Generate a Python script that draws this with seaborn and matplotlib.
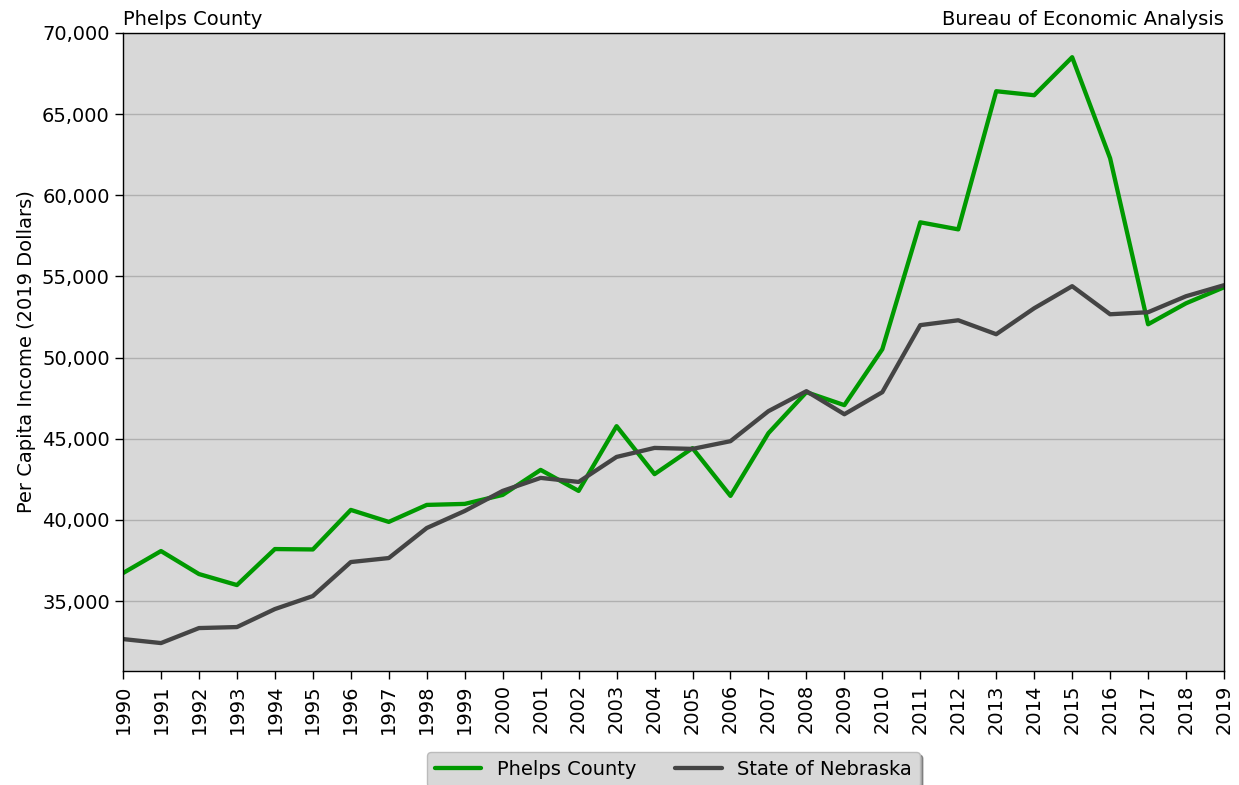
import numpy as np
import pandas as pd
import matplotlib
matplotlib.use("Agg")
import matplotlib.pyplot as plt
import seaborn as sns
from matplotlib.ticker import FuncFormatter

years = list(range(1990, 2020))
phelps = [36725, 38081, 36664, 35986, 38204, 38180, 40616, 39877, 40924, 40986,
          41540, 43081, 41787, 45776, 42820, 44420, 41479, 45345, 47870, 47070,
          50517, 58334, 57900, 66411, 66165, 68506, 62280, 52052, 53346, 54332]
nebraska = [32658, 32412, 33336, 33398, 34507, 35308, 37404, 37650, 39500, 40550,
            41787, 42588, 42340, 43880, 44435, 44375, 44850, 46700, 47930, 46510,
            47870, 52000, 52300, 51440, 53040, 54400, 52670, 52795, 53780, 54460]
series_names = ["Phelps County", "State of Nebraska"]
colors = ["#009900", "#444444"]
yticks = [35000, 40000, 45000, 50000, 55000, 60000, 65000, 70000]

df = pd.DataFrame({
    "Year": years * 2,
    "Value": phelps + nebraska,
    "Series": [series_names[0]] * len(years) + [series_names[1]] * len(years),
})

sns.set_style("white")
plt.rcParams['font.family'] = ['DejaVu Sans']
plt.rcParams['text.color'] = 'black'
plt.rcParams['axes.labelcolor'] = 'black'
plt.rcParams['xtick.color'] = 'black'
plt.rcParams['ytick.color'] = 'black'

fig = plt.figure(figsize=(12.39, 7.85), dpi=100)
ax = fig.add_axes([0.0993, 0.1452, 0.8886, 0.8128])
ax.set_facecolor("#d8d8d8")

sns.lineplot(data=df, x="Year", y="Value", hue="Series",
             palette=dict(zip(series_names, colors)), linewidth=3.1, ax=ax,
             legend=True)

ax.set_xlim(1990, 2019)
ax.set_ylim(30690, 70000)
ax.set_yticks(yticks)
ax.yaxis.set_major_formatter(FuncFormatter(lambda v, p: f"{int(v):,}"))
ax.set_xticks(years)
ax.set_xticklabels([str(y) for y in years], rotation=90)
ax.tick_params(axis="both", labelsize=14, length=6, width=1, direction="out",
               bottom=True, left=True, color="black", labelcolor="black")
ax.grid(axis="y", color="#b0b0b0", linewidth=1)
ax.set_axisbelow(True)
for s in ax.spines.values():
    s.set_color("black")
    s.set_linewidth(1)
ax.set_xlabel("")
ax.set_ylabel("Per Capita Income (2019 Dollars)", fontsize=14, color="black")
ax.set_title("Phelps County", loc="left", fontsize=14, pad=6, color="black")
ax.set_title("Bureau of Economic Analysis", loc="right", fontsize=14, pad=6,
             color="black")

leg = ax.legend(loc="upper center", bbox_to_anchor=(0.5, -0.112), ncol=2,
                fontsize=14, frameon=True, shadow=True, fancybox=True,
                handlelength=2.4, columnspacing=2.0)
leg.get_frame().set_facecolor("#d8d8d8")
leg.get_frame().set_edgecolor("#bbbbbb")
for line in leg.get_lines():
    line.set_linewidth(3.1)
for t in leg.get_texts():
    t.set_color("black")

fig.savefig("out.png", dpi=100)
